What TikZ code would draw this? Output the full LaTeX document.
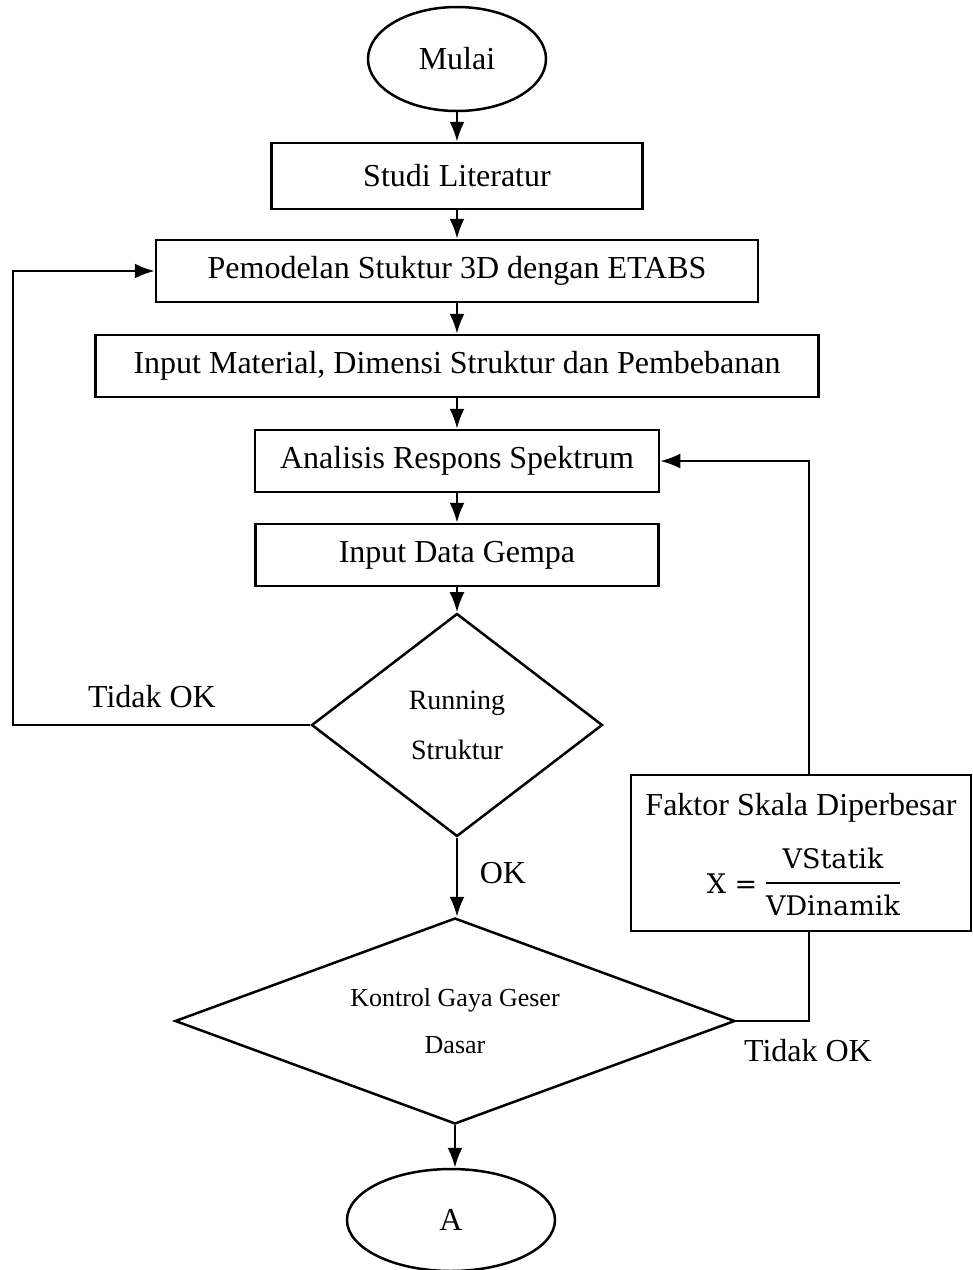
\documentclass[tikz,border=0pt]{standalone}
\usepackage{fontspec}
\setmainfont{Liberation Serif}
\newfontfamily\mathf{DejaVu Serif}
\usetikzlibrary{shapes.geometric,arrows.meta}
\begin{document}
\begin{tikzpicture}[x=0.5pt,y=-0.5pt,
  every node/.style={font=\fontsize{16}{19}\selectfont},
  box/.style={draw,line width=1.25pt,rectangle,inner sep=0pt,minimum height=31pt},
  term/.style={draw,line width=1.25pt,ellipse,inner sep=0pt},
  dec/.style={draw,line width=1.25pt,diamond,inner sep=0pt,align=center},
  conn/.style={line width=1.25pt},
  arr/.style={line width=1.25pt,-{Latex[length=10pt,width=7.5pt]}},
  lbl/.style={inner sep=0pt}]
\useasboundingbox (0,0) rectangle (973,1270);
\node[term,minimum width=89pt,minimum height=52pt] (mulai) at (457,59) {Mulai};
\node[box,minimum width=185.5pt,minimum height=33pt] (studi) at (457,176) {Studi Literatur};
\node[box,minimum width=301pt] (pem) at (457,271) {Pemodelan Stuktur 3D dengan ETABS};
\node[box,minimum width=361.5pt] (inp) at (457,366) {Input Material, Dimensi Struktur dan Pembebanan};
\node[box,minimum width=202pt] (ana) at (457,461) {Analisis Respons Spektrum};
\node[box,minimum width=201.5pt] (gem) at (457,555) {Input Data Gempa};
\node[dec,minimum width=145.5pt,minimum height=111.5pt,aspect=1.3,font=\fontsize{14}{25}\selectfont] (run) at (457,725) {Running\\Struktur};
\node[dec,minimum width=280pt,minimum height=103pt,aspect=2.7,font=\fontsize{13}{23.5}\selectfont] (kon) at (455,1021) {Kontrol Gaya Geser\\Dasar};
\node[term,minimum width=104pt,minimum height=51pt] (a) at (451,1220) {A};
\node[box,minimum width=170pt,minimum height=78pt] (fk) at (801,853) {};
\node[lbl] (fkt) at (801,808) {Faktor Skala Diperbesar};
\node[lbl,font=\mathf\fontsize{13.5}{16}\selectfont] (fx) at (732,884) {X =};
\node[lbl,font=\mathf\fontsize{13.5}{16}\selectfont] (fn) at (833,858) {VStatik};
\node[lbl,font=\mathf\fontsize{13.5}{16}\selectfont] (fd) at (833,905) {VDinamik};
\draw[line width=1.3pt] (fd.north west |- 0,883) coordinate (fb1) -- (fd.north east |- 0,883) coordinate (fb2);
\node[lbl] (t1) at (152,697) {Tidak OK};
\node[lbl] (ok) at (503,873) {OK};
\node[lbl] (t2) at (808,1051) {Tidak OK};
\draw[arr] (mulai) -- (studi);
\draw[arr] (studi) -- (pem);
\draw[arr] (pem) -- (inp);
\draw[arr] (inp) -- (ana);
\draw[arr] (ana) -- (gem);
\draw[arr] (gem) -- (run);
\draw[arr] (run) -- (run.south |- kon.north);
\draw[arr] (kon.south) -- (kon.south |- a.north);
\coordinate (lc) at (13,725);
\draw[arr] (run.west) -- (lc) |- (pem.west);
\coordinate (rc) at (809,1021);
\draw[conn] (kon.east) -- (rc) -- (rc |- fk.south);
\draw[arr] (rc |- fk.north) |- (ana.east);
\end{tikzpicture}
\end{document}
